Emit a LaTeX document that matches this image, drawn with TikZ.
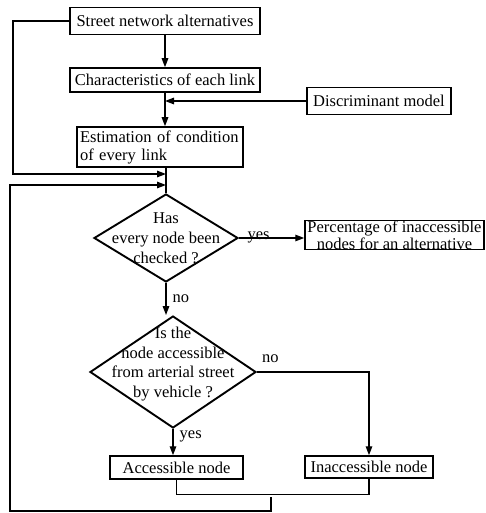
\documentclass[tikz,border=0pt]{standalone}
\usepackage{fontspec}
\setmainfont{Liberation Serif}
\usetikzlibrary{arrows.meta, shapes.geometric, calc}

\begin{document}
\begin{tikzpicture}[x=1pt, y=-1pt,
        font=\fontsize{16.5}{19}\selectfont,
        box/.style={draw, line width=1.5pt, inner sep=0pt},
        decision/.style={draw, diamond, line width=1.9pt, inner sep=0pt},
        arr/.style={-{Triangle[length=9pt,width=6.5pt]}, line width=1.4pt},
        link/.style={line width=1.4pt}]
        \useasboundingbox (0,0) rectangle (485,513);

        \node[box, minimum width=190pt, minimum height=27pt] (street) at (165,21) {Street network alternatives};
        \node[box, minimum width=190pt, minimum height=24pt] (chars) at (165,80) {Characteristics of each link};
        \node[box, minimum width=144pt, minimum height=27pt] (discr) at (379,101) {Discriminant model};
        \node[box, minimum width=166pt, minimum height=40pt, align=left, text width=160pt,
              font=\fontsize{16.5}{18}\selectfont] (estim) at (160,147) {Estimation of condition\\of every link};
        \node[decision, minimum width=144pt, minimum height=88pt] (check) at (166,238) {};
        \node[align=center, font=\fontsize{16.5}{20}\selectfont] (checktext) at (166,238) {Has\\every node been\\checked ?};
        \node[box, minimum width=179pt, minimum height=27pt, align=center,
              font=\fontsize{16.5}{17}\selectfont] (pct) at (394.5,235) {Percentage of inaccessible\\nodes for an alternative};
        \node[decision, minimum width=166pt, minimum height=112pt] (query) at (173,372) {};
        \node[align=center, font=\fontsize{16.5}{19.5}\selectfont] (querytext) at (173,364) {Is the\\node accessible\\from arterial street\\by vehicle ?};
        \node[box, minimum width=133pt, minimum height=23pt] (access) at (176.5,467.5) {Accessible node};
        \node[box, minimum width=128pt, minimum height=22pt] (inacc) at (369,467) {Inaccessible node};

        \coordinate (leftA) at (13,174);
        \coordinate (mergeA) at (166,174);
        \coordinate (sum) at (271,497);
        \coordinate (loopB) at (10,511);
        \coordinate (mergeB) at (166,185);

        \draw[arr] (street) -- (chars);
        \draw[arr] (chars.south) -- (chars.south |- estim.north);
        \draw[arr] (discr.west) -- (discr.west -| chars.south);
        \draw[link] (estim.south -| check.north) -- (check.north);
        \draw[arr] (street.west) -| (leftA) -- (mergeA);
        \draw[link] (access.south) -- ++(0,15) -| (inacc.south);
        \draw[arr] (sum) |- (loopB) |- (mergeB);

        \draw[arr] (check.east) -- (check.east -| pct.west) node[pos=0.3, above, inner sep=0pt, yshift=-6pt] {yes};
        \draw[arr] (check.south) -- (check.south |- query.north) node[midway, right, inner sep=6pt] {no};
        \draw[arr] (query.east) -| (inacc.north) node[pos=0.06, above=5pt] {no};
        \draw[arr] (query.south) -- (query.south |- access.north) node[pos=0.3, right, inner sep=6pt] {yes};
    \end{tikzpicture}
\end{document}
